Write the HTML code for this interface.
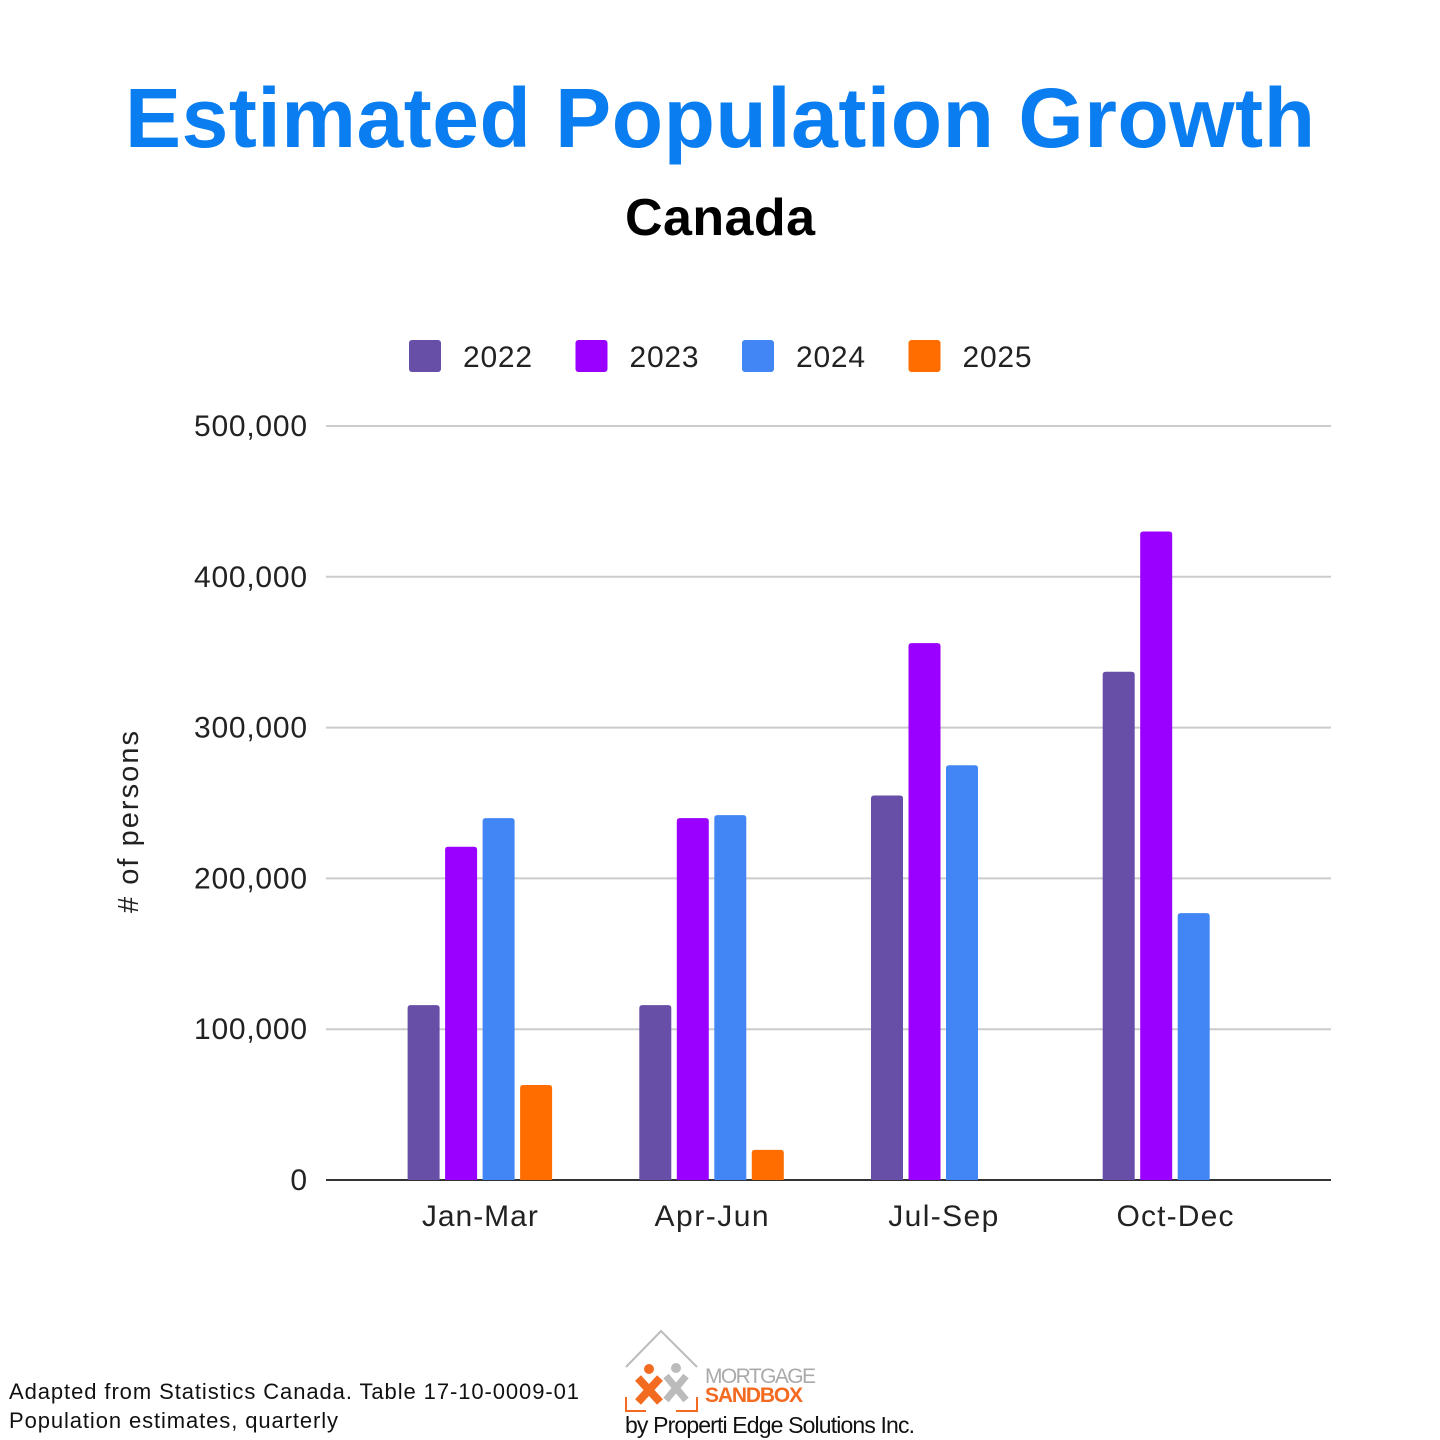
<!DOCTYPE html>
<html><head><meta charset="utf-8">
<style>
body{margin:0;background:#fff;}
svg{display:block;font-family:"Liberation Sans",Arial,sans-serif;}
</style></head>
<body>
<svg id="chart" width="1440" height="1440" viewBox="0 0 1440 1440">
<rect width="1440" height="1440" fill="#fff"/>
<text x="720" y="147" text-anchor="middle" font-size="84" font-weight="bold" fill="#0a7ef0" textLength="1190">Estimated Population Growth</text>
<text x="720" y="235" text-anchor="middle" font-size="52" font-weight="bold" fill="#000" textLength="190">Canada</text>
<g id="legend"></g>
<g id="grid"></g>
<g id="bars"></g>
<g id="xlabels"></g>
<text transform="translate(138,822) rotate(-90)" text-anchor="middle" font-size="29" fill="#222" textLength="182"># of persons</text>
<text x="9" y="1399" font-size="22" fill="#111" textLength="570">Adapted from Statistics Canada. Table 17-10-0009-01</text>
<text x="9" y="1428" font-size="22" fill="#111" textLength="329">Population estimates, quarterly</text>
<g>
<polyline points="626,1367 661,1331 697,1367" fill="none" stroke="#bbb" stroke-width="2"/>
<polyline points="626,1397 626,1411 646,1411" fill="none" stroke="#f26b21" stroke-width="2"/>
<polyline points="676,1411 697,1411 697,1397" fill="none" stroke="#f26b21" stroke-width="2"/>
<line x1="666" y1="1376" x2="686" y2="1400" stroke="#bbb" stroke-width="7"/>
<line x1="686" y1="1376" x2="666" y2="1400" stroke="#bbb" stroke-width="7"/>
<circle cx="676" cy="1368" r="5" fill="#bbb"/>
<line x1="638" y1="1378" x2="660" y2="1402" stroke="#f26b21" stroke-width="8"/>
<line x1="660" y1="1378" x2="638" y2="1402" stroke="#f26b21" stroke-width="8"/>
<circle cx="649" cy="1369" r="5" fill="#f26b21"/>
<text x="705" y="1383" font-size="21" fill="#aaa" textLength="111">MORTGAGE</text>
<text x="705" y="1402" font-size="21" font-weight="bold" fill="#f26b21" textLength="98">SANDBOX</text>
<text x="625" y="1433" font-size="23" fill="#111" textLength="290">by Properti Edge Solutions Inc.</text>
</g>
</svg>
<script>
const categories=["Jan-Mar","Apr-Jun","Jul-Sep","Oct-Dec"];
const seriesNames=["2022","2023","2024","2025"];
const values2022=[116000,116000,255000,337000];
const values2023=[221000,240000,356000,430000];
const values2024=[240000,242000,275000,177000];
const values2025=[63000,20000,null,null];
const yTicks=[0,100000,200000,300000,400000,500000];
const colors=["#674ea7","#9900ff","#4285f4","#ff6d01"];
const series=[values2022,values2023,values2024,values2025];
const NS="http://www.w3.org/2000/svg";
const plotL=326,plotR=1331,y0=1180,yTop=426,yMax=500000;
const bandL=364,band=231.7,barW=32,barStep=37.5;
function yScale(v){return y0-(v/yMax)*(y0-yTop);}
function xBand(i){return bandL+(i+0.5)*band;}
function mk(tag,attrs,parent){const e=document.createElementNS(NS,tag);for(const k in attrs)e.setAttribute(k,attrs[k]);parent.appendChild(e);return e;}
const grid=document.getElementById('grid');
yTicks.forEach(t=>{
  const y=yScale(t);
  const l=mk('line',{x1:plotL,x2:plotR,y1:y,y2:y,stroke:t===0?'#333':'#ccc','stroke-width':2},grid);
  
  
  const tx=mk('text',{x:307,y:y+10,'text-anchor':'end','font-size':30,fill:'#222'},grid);
  tx.textContent=t.toLocaleString('en-US');
  if(t>0) tx.setAttribute('textLength',113);
  
  
});
const bars=document.getElementById('bars');
categories.forEach((c,i)=>{
  const n=4;
  series.forEach((s,j)=>{
    const v=s[i];
    if(v==null)return;
    const x=xBand(i)-(n*barStep-(barStep-barW))/2+j*barStep;
    const y=yScale(v);
    const r=mk('path',{d:`M${x},${y0} L${x},${y+3} Q${x},${y} ${x+3},${y} L${x+barW-3},${y} Q${x+barW},${y} ${x+barW},${y+3} L${x+barW},${y0} Z`,fill:colors[j]},bars);
    
    
  });
  const t=mk('text',{x:xBand(i),y:1226,'text-anchor':'middle','font-size':30,fill:'#222'},document.getElementById('xlabels'));
  t.textContent=c;
  t.setAttribute('textLength',c==="Jan-Mar"?116:(c==="Jul-Sep"?110:(c==="Apr-Jun"?114:117)));
  
  
});
const legend=document.getElementById('legend');
seriesNames.forEach((s,j)=>{
  const x=409+j*166.5;
  const r=mk('rect',{x:x,y:340,width:32,height:32,rx:3,fill:colors[j]},legend);
  
  
  const t=mk('text',{x:x+54,y:367,'font-size':30,fill:'#222'},legend);
  t.textContent=s;
  t.setAttribute('textLength',69);
  
  
});
</script>
</body></html>
